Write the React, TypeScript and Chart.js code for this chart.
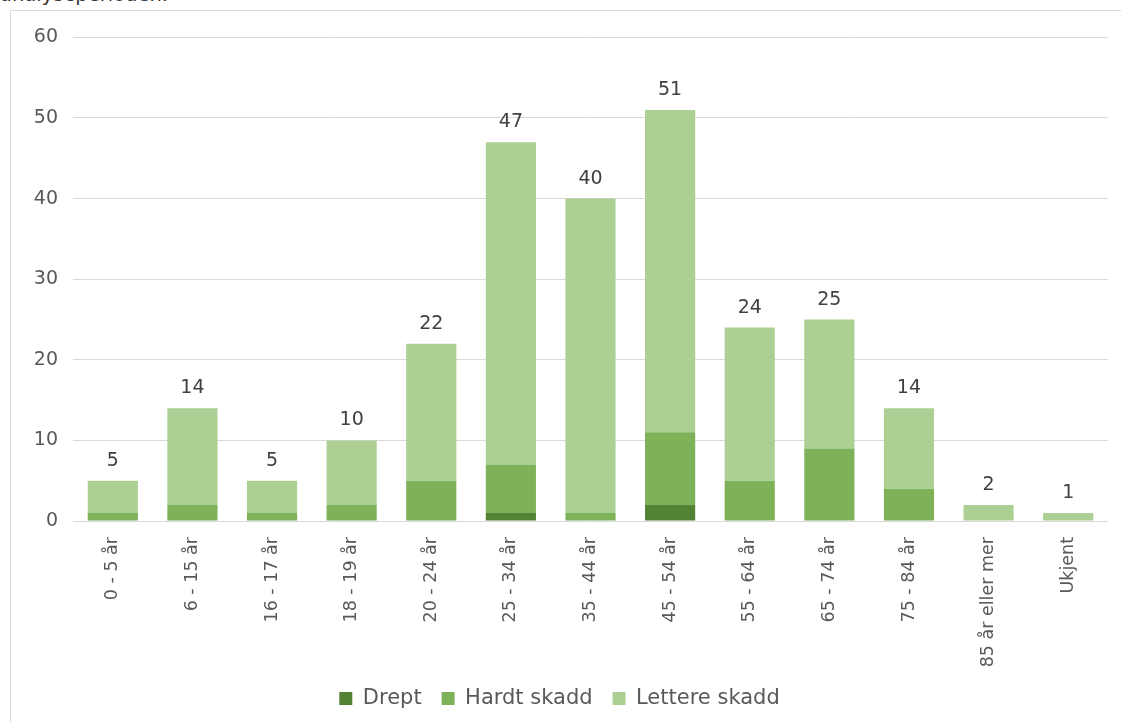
import React, { useEffect, useRef } from "react";
import { Chart, registerables } from "chart.js";

Chart.register(...registerables);

const categories = [
  "0 - 5 år", "6 - 15 år", "16 - 17 år", "18 - 19 år", "20 - 24 år", "25 - 34 år",
  "35 - 44 år", "45 - 54 år", "55 - 64 år", "65 - 74 år", "75 - 84 år", "85 år eller mer", "Ukjent",
];
const drept = [0, 0, 0, 0, 0, 1, 0, 2, 0, 0, 0, 0, 0];
const hardtSkadd = [1, 2, 1, 2, 5, 6, 1, 9, 5, 9, 4, 0, 0];
const lettereSkadd = [4, 12, 4, 8, 17, 40, 39, 40, 19, 16, 10, 2, 1];
const yTicks = [0, 10, 20, 30, 40, 50, 60];

const FONT = "'DejaVu Sans', Verdana, sans-serif";

const totalsPlugin = {
  id: "totals",
  afterDatasetsDraw(chart: any) {
    const ctx = chart.ctx;
    const yScale = chart.scales.y;
    const meta = chart.getDatasetMeta(0);
    ctx.save();
    ctx.font = `19px ${FONT}`;
    ctx.fillStyle = "#404040";
    ctx.textAlign = "center";
    ctx.textBaseline = "alphabetic";
    categories.forEach((_, i) => {
      const total = drept[i] + hardtSkadd[i] + lettereSkadd[i];
      const x = meta.data[i].x;
      const y = yScale.getPixelForValue(total);
      ctx.fillText(String(total), x, y - 15);
    });
    ctx.restore();
  },
};

export default function App() {
  const ref = useRef<HTMLCanvasElement | null>(null);

  useEffect(() => {
    document.body.style.margin = "0";
    if (!ref.current) return;
    const chart = new Chart(ref.current, {
      type: "bar",
      data: {
        labels: categories,
        datasets: [
          { label: "Drept", data: drept, backgroundColor: "#548235" },
          { label: "Hardt skadd", data: hardtSkadd, backgroundColor: "#7db259" },
          { label: "Lettere skadd", data: lettereSkadd, backgroundColor: "#acd093" },
        ],
      },
      options: {
        animation: false,
        responsive: false,
        devicePixelRatio: 1,
        layout: { padding: { left: 0, right: 13, top: 23, bottom: 3 } },
        datasets: { bar: { barPercentage: 0.63, categoryPercentage: 1 } } as any,
        plugins: {
          tooltip: { enabled: false },
          legend: {
            position: "bottom",
            labels: {
              boxWidth: 13,
              boxHeight: 13,
              padding: 20,
              color: "#595959",
              font: { family: FONT, size: 21 },
            },
          },
        },
        scales: {
          x: {
            stacked: true,
            grid: { display: false },
            border: { display: false },
            ticks: {
              color: "#595959",
              font: { family: FONT, size: 17.5 },
              minRotation: 90,
              maxRotation: 90,
              padding: 8,
              autoSkip: false,
            },
            afterFit(scale: any) {
              scale.height = 147;
            },
          },
          y: {
            stacked: true,
            min: 0,
            max: 60,
            afterBuildTicks(scale: any) {
              scale.ticks = yTicks.map((v) => ({ value: v }));
            },
            grid: { color: "#d9d9d9", lineWidth: 1, drawTicks: false },
            border: { display: false },
            ticks: {
              color: "#595959",
              font: { family: FONT, size: 19 },
              padding: 15,
            },
            afterFit(scale: any) {
              scale.width = 62;
            },
          },
        },
      },
      plugins: [totalsPlugin],
    });
    return () => chart.destroy();
  }, []);

  return (
    <div style={{ position: "relative", width: 1121, height: 722, overflow: "hidden", background: "#fff" }}>
      <div
        style={{
          position: "absolute",
          left: 0,
          top: -17,
          fontFamily: FONT,
          fontSize: "19.5px",
          color: "#333",
          whiteSpace: "nowrap",
        }}
      >
        analyseperioden.
      </div>
      <div
        style={{
          position: "absolute",
          left: 10,
          top: 10,
          width: 1120,
          height: 720,
          border: "1px solid #d9d9d9",
          boxSizing: "border-box",
        }}
      />
      <canvas
        ref={ref}
        width={1110}
        height={711}
        style={{ position: "absolute", left: 11, top: 11, width: 1110, height: 711, display: "block" }}
      />
    </div>
  );
}
